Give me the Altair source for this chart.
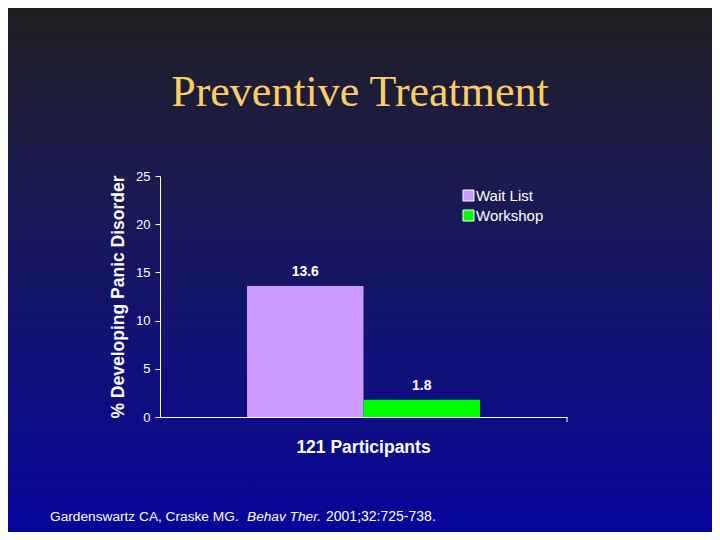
import altair as alt
import pandas as pd

# data
groups = ["121 Participants", "121 Participants"]
series = ["Wait List", "Workshop"]
values = [13.6, 1.8]
colors = ["#CC99FF", "#00FF00"]
y_ticks = [0, 5, 10, 15, 20, 25]

title_text = "Preventive Treatment"
y_title = "% Developing Panic Disorder"
cite_parts = ["Gardenswartz CA, Craske MG.", "Behav Ther.", "2001;32:725-738."]

W, H = 407, 241
PAD_L, PAD_T = 152, 168
TOTAL_W, TOTAL_H = 704, 524

df = pd.DataFrame({"group": groups, "series": series, "value": values})
one = pd.DataFrame({"a": [0]})

FONT = "Liberation Sans"

bg = alt.Chart(one).mark_rect(
    color=alt.Gradient(
        gradient="linear",
        stops=[
            alt.GradientStop(offset=0, color="#1f1f22"),
            alt.GradientStop(offset=0.35, color="#1a1a52"),
            alt.GradientStop(offset=0.7, color="#10107c"),
            alt.GradientStop(offset=1, color="#05059b"),
        ],
        x1=0, x2=0, y1=0, y2=1,
    )
).encode(
    x=alt.value(-PAD_L), x2=alt.value(TOTAL_W - PAD_L),
    y=alt.value(-PAD_T), y2=alt.value(TOTAL_H - PAD_T),
)

x_enc = alt.X(
    "group:N",
    title=None,
    scale=alt.Scale(paddingOuter=0.3734, paddingInner=0),
    axis=alt.Axis(
        ticks=False, labelAngle=0, labelColor="white", labelFont=FONT,
        labelFontSize=17.5, labelFontWeight="bold", labelPadding=21,
        domainColor="white", domainWidth=1, zindex=2,
    ),
)
xoff = alt.XOffset("series:N", sort=series, scale=alt.Scale(paddingInner=0, paddingOuter=0))
y_enc = alt.Y(
    "value:Q",
    scale=alt.Scale(domain=[0, 25], nice=False),
    axis=alt.Axis(
        values=y_ticks, grid=False, title=y_title, titleColor="white",
        titleFont=FONT, titleFontSize=17.5, titleFontWeight="bold", titlePadding=8,
        labelColor="white", labelFont=FONT, labelFontSize=13, labelPadding=5,
        tickColor="white", tickSize=5, domainColor="white", zindex=2,
    ),
)

bars = alt.Chart(df).mark_bar().encode(
    x=x_enc, xOffset=xoff, y=y_enc,
    color=alt.Color(
        "series:N",
        scale=alt.Scale(domain=series, range=colors),
        legend=alt.Legend(
            title=None, orient="none", legendX=301, legendY=12, padding=0,
            symbolType="square", symbolSize=121, symbolStrokeColor="white",
            symbolStrokeWidth=1, labelColor="white", labelFont=FONT,
            labelFontSize=15, labelOffset=0, rowPadding=4,
        ),
    ),
)

labels = alt.Chart(df).mark_text(
    baseline="bottom", dy=-7, color="white", font=FONT, fontSize=14, fontWeight="bold"
).encode(x="group:N", xOffset=xoff, y="value:Q", text=alt.Text("value:Q", format=".1f"))

end_tick = alt.Chart(one).mark_rule(color="white").encode(
    x=alt.value(W), y=alt.value(H), y2=alt.value(H + 5)
)

title = alt.Chart(one).mark_text(
    text=title_text, font="Liberation Serif", fontSize=44, color="#FFCC66",
    align="center", baseline="alphabetic",
).encode(x=alt.value(200), y=alt.value(-70))

cite1 = alt.Chart(one).mark_text(
    text=cite_parts[0], font=FONT, fontSize=13.7, color="white", align="left", baseline="middle"
).encode(x=alt.value(-110), y=alt.value(341))
cite2 = alt.Chart(one).mark_text(
    text=cite_parts[1], font=FONT, fontSize=13.7, color="white", align="left",
    baseline="middle", fontStyle="italic",
).encode(x=alt.value(87), y=alt.value(341))
cite3 = alt.Chart(one).mark_text(
    text=cite_parts[2], font=FONT, fontSize=14, color="white", align="left", baseline="middle"
).encode(x=alt.value(166), y=alt.value(341))

chart = alt.layer(bg, bars, labels, end_tick, title, cite1, cite2, cite3).properties(
    width=W, height=H,
    autosize=alt.AutoSizeParams(type="none"),
    padding={"left": PAD_L, "top": PAD_T, "right": TOTAL_W - PAD_L - W, "bottom": TOTAL_H - PAD_T - H},
    background="#05059b",
).configure_view(stroke=None)

chart.save("out.html", embed_options={"renderer": "svg", "actions": False})
